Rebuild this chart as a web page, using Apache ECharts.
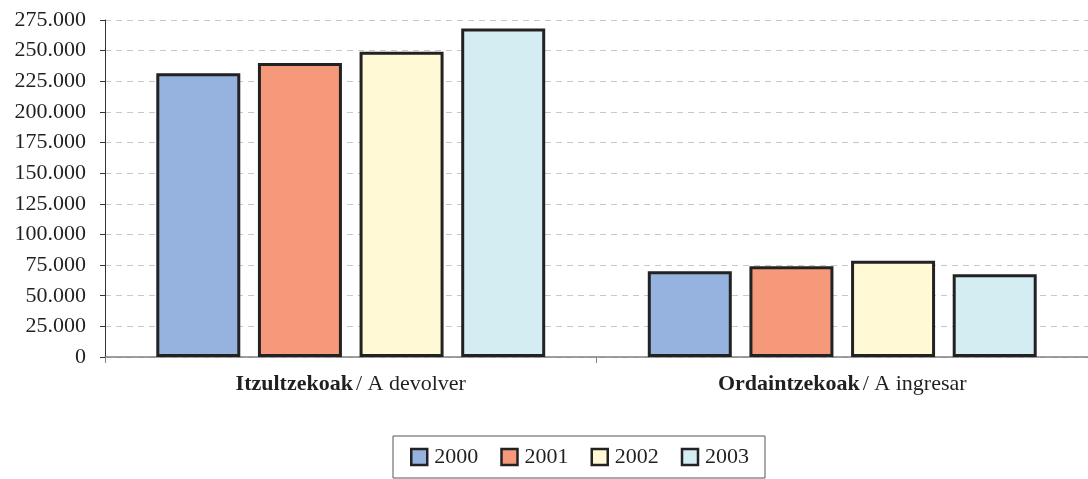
<!DOCTYPE html>
<html>
<head>
<meta charset="utf-8">
<script src="https://cdn.jsdelivr.net/npm/echarts@6/dist/echarts.min.js"></script>
<style>
  html, body { margin: 0; padding: 0; background: #fff; }
  #main { width: 1088px; height: 479px; }
</style>
</head>
<body>
<div id="main"></div>
<script>
var categories = ['Itzultzekoak|/ A devolver', 'Ordaintzekoak|/ A ingresar'];
var years = ['2000', '2001', '2002', '2003'];
var values2000 = [231500, 70000];
var values2001 = [240000, 74000];
var values2002 = [249000, 78500];
var values2003 = [268000, 67500];
var colors = ['#95b3de', '#f5997a', '#fff9d6', '#d4edf2'];

var chart = echarts.init(document.getElementById('main'));
var textColor = '#231f20';
var font = '"Liberation Serif", "Times New Roman", serif';

function makeSeries(name, data, color) {
  return {
    name: name,
    type: 'bar',
    data: data,
    barWidth: 84,
    barGap: '21%',
    itemStyle: {
      color: color,
      borderColor: '#222',
      borderWidth: 3
    }
  };
}

var option = {
  animation: false,
  textStyle: { fontFamily: font, color: textColor },
  grid: { left: 105, right: 0, top: 20, bottom: 122 },
  legend: {
    data: years,
    icon: 'rect',
    left: 393,
    top: 436,
    padding: [10, 16, 10, 17],
    itemWidth: 16,
    itemHeight: 16,
    itemGap: 22,
    borderColor: '#555',
    borderWidth: 1,
    textStyle: { fontFamily: font, fontSize: 22, color: textColor, padding: [0, 0, 0, 2] },
    itemStyle: { borderColor: '#222', borderWidth: 2.5 }
  },
  xAxis: {
    type: 'category',
    data: categories,
    axisLine: { lineStyle: { color: '#808080', width: 1.5 } },
    axisTick: { show: true, length: 6, lineStyle: { color: '#808080' } },
    axisLabel: {
      margin: 16,
      formatter: function (v) {
        var p = v.split('|');
        return '{b|' + p[0] + '} {n|' + p[1] + '}';
      },
      rich: {
        b: { fontFamily: font, fontSize: 22, fontWeight: 'bold', color: textColor },
        n: { fontFamily: font, fontSize: 22, color: textColor }
      }
    }
  },
  yAxis: {
    type: 'value',
    min: 0,
    max: 275000,
    interval: 25000,
    axisLine: { show: true, lineStyle: { color: '#333', width: 1 } },
    axisTick: { show: true, length: 5, lineStyle: { color: '#333' } },
    axisLabel: {
      margin: 19,
      fontFamily: font,
      fontSize: 22,
      color: textColor,
      formatter: function (v) {
        return String(v).replace(/\B(?=(\d{3})+(?!\d))/g, '.');
      }
    },
    splitLine: { lineStyle: { color: '#c8c8c8', type: [6, 5] } }
  },
  series: [
    makeSeries(years[0], values2000, colors[0]),
    makeSeries(years[1], values2001, colors[1]),
    makeSeries(years[2], values2002, colors[2]),
    makeSeries(years[3], values2003, colors[3])
  ]
};
chart.setOption(option);
</script>
</body>
</html>
